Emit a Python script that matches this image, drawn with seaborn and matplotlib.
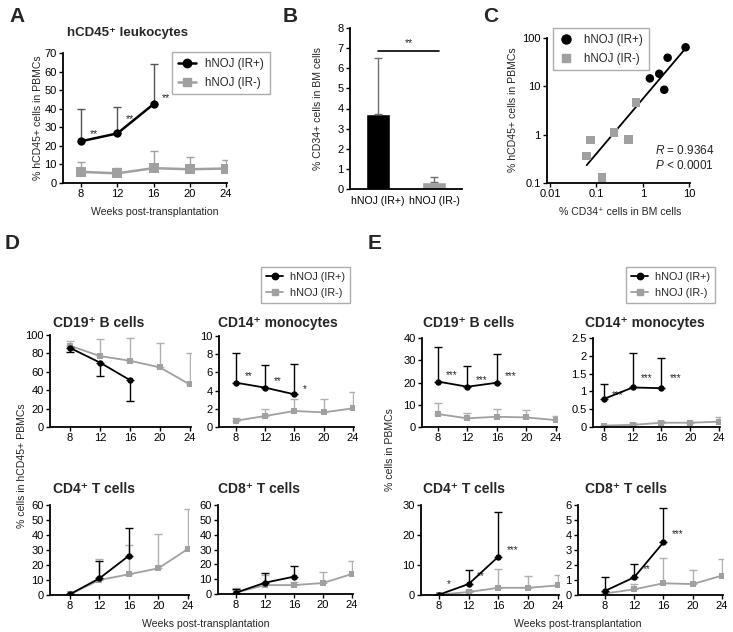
import numpy as np
import pandas as pd
import matplotlib
matplotlib.use("Agg")
import matplotlib.pyplot as plt
from matplotlib.lines import Line2D
import seaborn as sns

sns.set_theme(style="ticks")
plt.rcParams['font.family'] = ['Liberation Sans', 'DejaVu Sans']
plt.rcParams['mathtext.fontset'] = 'custom'
plt.rcParams['mathtext.rm'] = 'Liberation Sans'
plt.rcParams['mathtext.it'] = 'Liberation Sans:italic'

# ---------------- data ----------------
weeks_all = [8, 12, 16, 20, 24]
weeks_pos = [8, 12, 16]
label_pos = "hNOJ (IR+)"
label_neg = "hNOJ (IR-)"

# A: hCD45+ leukocytes (% in PBMCs); *_end = end of error bar
a_pos = [22.5, 26.7, 42.5]
a_pos_end = [40, 41, 64]
a_neg = [6.0, 5.2, 8.0, 7.4, 7.8]
a_neg_end = [11.5, 8.2, 17.2, 14.2, 12.4]
a_stars = ["**", "**", "**"]

# B: CD34+ in BM
b_cats = ["hNOJ (IR+)", "hNOJ (IR-)"]
b_vals = [3.75, 0.35]
b_err_end = [6.5, 0.6]

# C: correlation
c_pos_x = [8.28, 3.40, 2.24, 1.41, 2.87]
c_pos_y = [64.2, 39.1, 18.2, 14.6, 8.5]
c_neg_x = [0.707, 0.238, 0.49, 0.0736, 0.0615, 0.131]
c_neg_y = [4.57, 1.10, 0.80, 0.77, 0.36, 0.13]
c_fit_x = [0.0615, 8.28]
c_fit_y = [0.234, 61.2]

# D: % in hCD45+ PBMCs
d_cd19_pos = [86, 70, 51];        d_cd19_pos_end = [82, 55, 28]
d_cd19_neg = [88.3, 77.1, 72, 64.8, 46.2]; d_cd19_neg_end = [93.8, 95.3, 97, 91.6, 80]
d_cd14_pos = [4.87, 4.32, 3.59];  d_cd14_pos_end = [8.17, 6.81, 6.89]
d_cd14_neg = [0.69, 1.21, 1.76, 1.61, 2.05]; d_cd14_neg_end = [0.95, 1.94, 3.04, 3.08, 3.81]
d_cd4_pos = [0.5, 11.1, 26.2];    d_cd4_pos_end = [0.5, 22.5, 44.9]
d_cd4_neg = [0.5, 10, 13.8, 17.8, 30.7]; d_cd4_neg_end = [1.0, 23.8, 33.3, 40.4, 57.1]
d_cd8_pos = [0.9, 7.6, 11.7];     d_cd8_pos_end = [3.4, 13.9, 19.1]
d_cd8_neg = [1.0, 6.0, 6.0, 7.4, 13.5]; d_cd8_neg_end = [3.8, 13.0, 8.0, 14.8, 22.5]
d_cd14_stars = ["**", "**", "*"]

# E: % in PBMCs
e_cd19_pos = [20.4, 18.1, 19.9];  e_cd19_pos_end = [35.8, 27.4, 32.8]
e_cd19_neg = [5.8, 3.9, 4.6, 4.3, 3.1]; e_cd19_neg_end = [10.6, 6.4, 7.9, 7.6, 4.9]
e_cd14_pos = [0.79, 1.11, 1.09];  e_cd14_pos_end = [1.2, 2.09, 1.93]
e_cd14_neg = [0.04, 0.06, 0.12, 0.12, 0.15]; e_cd14_neg_end = [0.06, 0.12, 0.18, 0.15, 0.29]
e_cd4_pos = [0.1, 3.67, 12.8];    e_cd4_pos_end = [0.1, 8.3, 27.6]
e_cd4_neg = [0.1, 1.0, 2.4, 2.4, 3.2]; e_cd4_neg_end = [0.1, 1.6, 8.7, 6.4, 6.7]
e_cd8_pos = [0.27, 1.18, 3.51];   e_cd8_pos_end = [1.18, 2.04, 5.78]
e_cd8_neg = [0.1, 0.38, 0.78, 0.73, 1.29]; e_cd8_neg_end = [0.2, 0.73, 2.44, 1.67, 2.4]
e_cd19_stars = ["***", "***", "***"]
e_cd14_stars = ["***", "***", "***"]
e_cd4_stars = ["*", "**", "***"]
e_cd8_stars = ["", "**", "***"]

# ---------------- figure ----------------
W, H = 733, 632
fig = plt.figure(figsize=(W / 100, H / 100), dpi=100)
BLACK = "#000000"
GRAY = "#a0a0a0"
GRAY_ERR = "#b0b0b0"
TICK_FS = 8
LAB_FS = 7.6


def add_ax(l, t, r, b):
    return fig.add_axes([l / W, 1 - b / H, (r - l) / W, (b - t) / H])


def ftext(x, y, s, **kw):
    fig.text(x / W, 1 - y / H, s, **kw)


def style(ax):
    for s in ["top", "right"]:
        ax.spines[s].set_visible(False)
    for s in ["left", "bottom"]:
        ax.spines[s].set_linewidth(1.3)
        ax.spines[s].set_color("black")
    ax.tick_params(direction="out", length=3, width=1, labelsize=TICK_FS, pad=1.5,
                   colors="black")
    ax.set_xlabel("")
    ax.set_ylabel("")


def series(ax, weeks, vals, ends, color, ecolor, marker, ms, lw, elw=1.0, cap=3.0, z=3):
    v = np.array(vals, float)
    e = np.array(ends, float)
    lo = np.clip(v - e, 0, None)
    hi = np.clip(e - v, 0, None)
    ax.errorbar(weeks, v, yerr=[lo, hi], fmt="none", ecolor=ecolor, elinewidth=elw,
                capsize=cap, capthick=elw, zorder=z - 1)
    df = pd.DataFrame({"week": weeks, "val": vals})
    sns.lineplot(data=df, x="week", y="val", color=color, marker=marker, markersize=ms,
                 markeredgecolor=color, markeredgewidth=0, lw=lw, ax=ax, zorder=z,
                 errorbar=None)


# ---------- Panel A ----------
axA = add_ax(63, 53, 227, 183)
series(axA, weeks_all, a_neg, a_neg_end, GRAY, GRAY, "s", 6.5, 1.8, z=2)
series(axA, weeks_pos, a_pos, a_pos_end, BLACK, "#555555", "o", 6, 1.8, z=4)
style(axA)
axA.set_xlim(6, 24.1)
axA.set_ylim(0, 70)
axA.set_xticks(weeks_all)
axA.set_yticks(range(0, 71, 10))
for w, v, s, dy in zip(weeks_pos, a_pos, a_stars, [5, 10, 4]):
    axA.annotate(s, (w, v), xytext=(6, dy), textcoords="offset points", ha="left",
                 va="center", fontsize=7.5)
ftext(67, 33, "hCD45\u207a leukocytes", fontsize=9.5, fontweight="bold", ha="left", va="center")
ftext(155, 212, "Weeks post-transplantation", fontsize=LAB_FS, ha="center", va="center")
ftext(38, 118, "% hCD45+ cells in PBMCs", fontsize=LAB_FS, rotation=90, ha="center", va="center")
hA = [Line2D([], [], color=BLACK, marker="o", lw=1.8, ms=6),
      Line2D([], [], color=GRAY, marker="s", lw=1.8, ms=6)]
fig.legend(hA, [label_pos, label_neg], loc="upper left", bbox_to_anchor=(172 / W, 1 - 52 / H),
           borderaxespad=0, fontsize=8.3, frameon=True, fancybox=False, edgecolor="#999999",
           handlelength=1.6, handletextpad=0.8, borderpad=0.5, labelspacing=0.6)

# ---------- Panel B ----------
axB = add_ax(350, 28, 462, 189)
dfB = pd.DataFrame({"grp": b_cats, "val": b_vals})
sns.barplot(data=dfB, x="grp", y="val", hue="grp", palette=[BLACK, GRAY], width=0.43,
            legend=False, ax=axB, saturation=1)
bv = np.array(b_vals)
axB.errorbar([0, 1], bv, yerr=[np.zeros(2), np.array(b_err_end) - bv], fmt="none",
             ecolor="#707070", elinewidth=1, capsize=3, capthick=1, zorder=5)
style(axB)
axB.set_xlim(-0.5, 1.5)
axB.set_ylim(0, 8)
axB.set_yticks(range(0, 9))
axB.tick_params(axis="x", length=0, pad=5, labelsize=7.6)
axB.plot([0, 1.09], [6.85, 6.85], color="black", lw=1.2)
axB.text(0.55, 7.0, "**", ha="center", va="bottom", fontsize=7.5)
ftext(318, 108, "% CD34+ cells in BM cells", fontsize=LAB_FS, rotation=90, ha="center", va="center")

# ---------- Panel C ----------
axC = add_ax(547, 38, 690, 183)
dfC = pd.DataFrame({"x": c_pos_x + c_neg_x, "y": c_pos_y + c_neg_y,
                    "grp": [label_pos] * len(c_pos_x) + [label_neg] * len(c_neg_x)})
sns.scatterplot(data=dfC, x="x", y="y", hue="grp", style="grp",
                palette={label_pos: BLACK, label_neg: GRAY},
                markers={label_pos: "o", label_neg: "s"}, s=38, linewidth=0,
                legend=False, ax=axC, zorder=3)
sns.lineplot(x=c_fit_x, y=c_fit_y, color="black", lw=1.3, ax=axC, zorder=2)
axC.set_xscale("log")
axC.set_yscale("log")
style(axC)
axC.set_xlim(0.0086, 10.3)
axC.set_ylim(0.1, 100)
axC.set_xticks([0.01, 0.1, 1, 10])
axC.set_xticklabels(["0.01", "0.1", "1", "10"])
axC.set_yticks([0.1, 1, 10, 100])
axC.set_yticklabels(["0.1", "1", "10", "100"])
axC.minorticks_off()
hC = [Line2D([], [], ls="none", color=BLACK, marker="o", ms=6.5),
      Line2D([], [], ls="none", color=GRAY, marker="s", ms=6)]
fig.legend(hC, [label_pos, label_neg], loc="upper left", bbox_to_anchor=(553 / W, 1 - 28 / H),
           borderaxespad=0, fontsize=8.3, frameon=True, fancybox=False, edgecolor="#999999",
           handlelength=1.2, handletextpad=1.0, borderpad=0.5, labelspacing=0.6)
ftext(655, 151, r"$\mathit{R}$ = 0.9364", fontsize=8.5, ha="left", va="center")
ftext(655, 165, r"$\mathit{P}$ < 0.0001", fontsize=8.5, ha="left", va="center")
ftext(620, 212, "% CD34\u207a cells in BM cells", fontsize=LAB_FS, ha="center", va="center")
ftext(513, 110, "% hCD45+ cells in PBMCs", fontsize=LAB_FS, rotation=90, ha="center", va="center")


# ---------- small multiples D / E ----------
def small(box, xl, pos, pos_end, neg, neg_end, ylim, yticks, yticklabels=None, title=None,
          title_x=None, title_y=None, star_labels=None, star_dy=None):
    ax = add_ax(*box)
    series(ax, weeks_all, neg, neg_end, GRAY, GRAY_ERR, "s", 5, 1.3, elw=1.0, cap=3, z=2)
    series(ax, weeks_pos, pos, pos_end, BLACK, BLACK, "o", 4.6, 1.3, elw=1.0, cap=3, z=4)
    style(ax)
    ax.set_xlim(xl, 24.15)
    ax.set_ylim(*ylim)
    ax.set_xticks(weeks_all)
    ax.set_yticks(yticks)
    if yticklabels is not None:
        ax.set_yticklabels(yticklabels)
    if title:
        ftext(title_x, title_y, title, fontsize=10, fontweight="bold", ha="left", va="center")
    if star_labels:
        for w, v, s, dy in zip(weeks_pos, pos, star_labels, star_dy):
            if s:
                ax.annotate(s, (w, v), xytext=(6, dy), textcoords="offset points",
                            ha="left", va="center", fontsize=7)
    return ax


small((50, 335, 191, 427), 5.33, d_cd19_pos, d_cd19_pos_end, d_cd19_neg, d_cd19_neg_end,
      (0, 100), range(0, 101, 20), title="CD19\u207a B cells", title_x=53, title_y=323)
small((219, 336, 354, 427), 5.67, d_cd14_pos, d_cd14_pos_end, d_cd14_neg, d_cd14_neg_end,
      (0, 10), range(0, 11, 2), title="CD14\u207a monocytes", title_x=218, title_y=323,
      star_labels=d_cd14_stars, star_dy=[5, 5, 4])
small((50, 505, 189, 595), 5.29, d_cd4_pos, d_cd4_pos_end, d_cd4_neg, d_cd4_neg_end,
      (0, 60), range(0, 61, 10), title="CD4\u207a T cells", title_x=53, title_y=489)
small((218, 505, 353, 594), 5.52, d_cd8_pos, d_cd8_pos_end, d_cd8_neg, d_cd8_neg_end,
      (0, 60), range(0, 61, 10), title="CD8\u207a T cells", title_x=218, title_y=489)

small((422, 338, 557, 427), 5.83, e_cd19_pos, e_cd19_pos_end, e_cd19_neg, e_cd19_neg_end,
      (0, 40), range(0, 41, 10), title="CD19\u207a B cells", title_x=423, title_y=323,
      star_labels=e_cd19_stars, star_dy=[5, 5, 5])
small((593, 338, 720, 427), 6.47, e_cd14_pos, e_cd14_pos_end, e_cd14_neg, e_cd14_neg_end,
      (0, 2.5), [0, 0.5, 1, 1.5, 2, 2.5], ["0", "0.5", "1", "1.5", "2", "2.5"],
      title="CD14\u207a monocytes", title_x=585, title_y=323,
      star_labels=e_cd14_stars, star_dy=[3, 7, 7])
small((421, 505, 559, 595), 5.58, e_cd4_pos, e_cd4_pos_end, e_cd4_neg, e_cd4_neg_end,
      (0, 30), range(0, 31, 10), title="CD4\u207a T cells", title_x=423, title_y=489,
      star_labels=e_cd4_stars, star_dy=[8, 6, 5])
small((578, 505, 723, 595), 4.31, e_cd8_pos, e_cd8_pos_end, e_cd8_neg, e_cd8_neg_end,
      (0, 6), range(0, 7, 1), title="CD8\u207a T cells", title_x=585, title_y=489,
      star_labels=e_cd8_stars, star_dy=[5, 6, 6])

hD = [Line2D([], [], color=BLACK, marker="o", lw=1.3, ms=4.6),
      Line2D([], [], color=GRAY, marker="s", lw=1.3, ms=4.6)]
for lx in (261, 626):
    fig.legend(hD, [label_pos, label_neg], loc="upper left", bbox_to_anchor=(lx / W, 1 - 267 / H),
               borderaxespad=0, fontsize=7.8, frameon=True, fancybox=False, edgecolor="#999999",
               handlelength=1.6, handletextpad=0.6, borderpad=0.45, labelspacing=0.55)

ftext(206, 624, "Weeks post-transplantation", fontsize=LAB_FS, ha="center", va="center")
ftext(578, 624, "Weeks post-transplantation", fontsize=LAB_FS, ha="center", va="center")
ftext(22, 466, "% cells in hCD45+ PBMCs", fontsize=LAB_FS, rotation=90, ha="center", va="center")
ftext(390, 450, "% cells in PBMCs", fontsize=LAB_FS, rotation=90, ha="center", va="center")

# panel letters
for letter, x, y in [("A", 9, 17), ("B", 283, 17), ("C", 483, 17), ("D", 5, 243), ("E", 368, 243)]:
    ftext(x, y, letter, fontsize=15, fontweight="bold", ha="left", va="center")

fig.savefig("out.png", dpi=100)
